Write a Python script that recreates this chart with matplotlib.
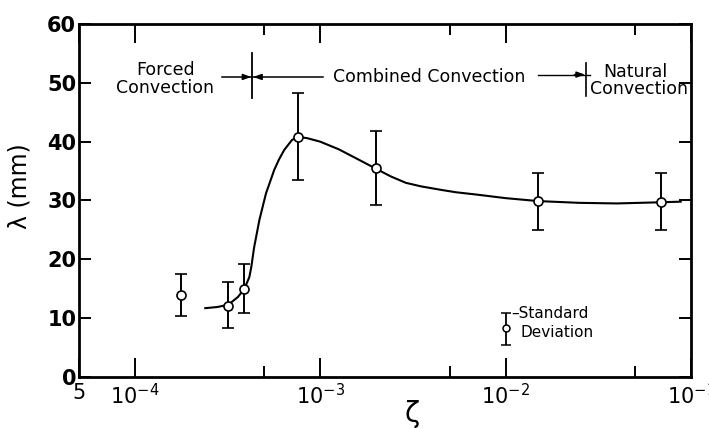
import matplotlib
matplotlib.use("Agg")
import numpy as np
import matplotlib.pyplot as plt

# measured points (zeta, lambda in mm) with standard deviation bounds
zeta = [1.77e-4, 3.2e-4, 3.9e-4, 7.6e-4, 2.0e-3, 1.5e-2, 6.9e-2]
lam = [13.9, 12.1, 15.0, 40.8, 35.5, 29.9, 29.8]
lam_hi = [17.5, 16.2, 19.2, 48.3, 41.8, 34.7, 34.7]
lam_lo = [10.4, 8.3, 10.9, 33.5, 29.3, 25.0, 25.0]

# hand drawn trend curve
curve_zeta = [2.4e-4, 2.8e-4, 3.2e-4, 3.6e-4, 3.9e-4, 4.0e-4, 4.15e-4, 4.25e-4,
              4.4e-4, 4.7e-4, 5.1e-4, 5.65e-4, 6.0e-4, 6.4e-4, 7.05e-4, 7.6e-4,
              8.5e-4, 1.0e-3, 1.26e-3, 1.6e-3, 2.0e-3, 2.4e-3, 2.9e-3, 3.5e-3,
              4.5e-3, 5.4e-3, 7.0e-3, 1.0e-2, 1.5e-2, 2.5e-2, 4.0e-2, 6.9e-2,
              8.8e-2]
curve_lam = [11.7, 11.9, 12.3, 13.6, 15.0, 15.8, 17.0, 18.7,
             22.0, 26.7, 31.2, 35.2, 37.0, 38.6, 40.3, 40.8,
             40.6, 40.0, 38.7, 37.0, 35.4, 34.1, 33.0, 32.4,
             31.8, 31.4, 31.0, 30.4, 29.9, 29.6, 29.5, 29.7,
             29.8]

xtick_pos = [5e-5, 1e-4, 1e-3, 1e-2, 1e-1]
xtick_labels = ["5", "$10^{-4}$", "$10^{-3}$", "$10^{-2}$", "$10^{-1}$"]
minor_pos = [5e-4, 5e-3, 5e-2]
ytick_pos = [0, 10, 20, 30, 40, 50, 60]

plt.rcParams["font.family"] = ["DejaVu Sans"]
plt.rcParams["mathtext.default"] = "regular"

fig = plt.figure(figsize=(7.09, 4.28), dpi=100)
ax = fig.add_axes([0.1114, 0.1192, 0.8632, 0.8247])

ax.plot(curve_zeta, curve_lam, color="black", linewidth=1.5, zorder=2,
        solid_joinstyle="round")

lam_arr = np.array(lam)
yerr = [lam_arr - np.array(lam_lo), np.array(lam_hi) - lam_arr]
ax.errorbar(zeta, lam, yerr=yerr, fmt="o", color="black", ecolor="black",
            elinewidth=1.4, capsize=4, capthick=1.4, markersize=6.5,
            markerfacecolor="white", markeredgecolor="black", markeredgewidth=1.2,
            zorder=3)

# legend symbol for standard deviation
ax.errorbar([1e-2], [8.3], yerr=[[2.9], [2.6]], fmt="o", color="black",
            elinewidth=1.3, capsize=3.5, capthick=1.3, markersize=5,
            markerfacecolor="white", markeredgecolor="black", markeredgewidth=1.1)
ax.text(1.07e-2, 10.8, "\u2013Standard", fontsize=11, ha="left", va="center")
ax.text(1.2e-2, 7.6, "Deviation", fontsize=11, ha="left", va="center")

# regime annotations
ann_kw = dict(fontsize=12.5, va="center")
ax.text(1.47e-4, 52.2, "Forced", ha="center", **ann_kw)
ax.text(1.45e-4, 49.1, "Convection", ha="center", **ann_kw)
ax.text(3.86e-3, 51.0, "Combined Convection", ha="center", **ann_kw)
ax.text(3.37e-2, 51.9, "Natural", ha="left", **ann_kw)
ax.text(2.86e-2, 48.9, "Convection", ha="left", **ann_kw)

y_arrow = 51.0
ax.plot([2.97e-4, 1.03e-3], [y_arrow, y_arrow], color="black", linewidth=1.1)
ax.plot([4.3e-4, 4.3e-4], [47.4, 55.1], color="black", linewidth=1.3)
arrow = dict(arrowstyle="-|>,head_length=0.5,head_width=0.18", color="black",
             linewidth=1.0, shrinkA=0, shrinkB=0)
ax.annotate("", xy=(4.25e-4, y_arrow), xytext=(3.9e-4, y_arrow), arrowprops=arrow)
ax.annotate("", xy=(4.35e-4, y_arrow), xytext=(4.75e-4, y_arrow), arrowprops=arrow)

y_arrow2 = 51.4
ax.plot([1.5e-2, 2.85e-2], [y_arrow2, y_arrow2], color="black", linewidth=1.0)
ax.plot([2.72e-2, 2.72e-2], [47.7, 53.3], color="black", linewidth=1.2)
ax.annotate("", xy=(2.68e-2, y_arrow2), xytext=(2.35e-2, y_arrow2), arrowprops=arrow)

ax.set_xscale("log")
ax.set_xlim(5e-5, 1e-1)
ax.set_ylim(0, 60)

ax.set_xticks(xtick_pos)
ax.set_xticklabels(xtick_labels)
ax.set_xticks(minor_pos, minor=True)
ax.set_xticklabels([], minor=True)
ax.set_yticks(ytick_pos)

ax.tick_params(axis="x", which="major", direction="in", top=True, bottom=True,
               length=14, width=1.4, pad=4, labelsize=15)
ax.tick_params(axis="x", which="minor", direction="in", top=True, bottom=True,
               length=8, width=1.4)
ax.tick_params(axis="y", direction="in", left=True, right=True,
               length=8.5, width=1.4, pad=2, labelsize=15)
for lbl in ax.get_yticklabels():
    lbl.set_fontweight("bold")

for sp in ax.spines.values():
    sp.set_linewidth(2.0)

fig.text(20 / 709, 1 - 186 / 428, "\u03bb (mm)", rotation=90, fontsize=17,
         ha="center", va="center")
fig.text(412 / 709, 1 - 414 / 428, "\u03b6", fontsize=20, ha="center", va="center")

fig.savefig("out.png", dpi=100)
